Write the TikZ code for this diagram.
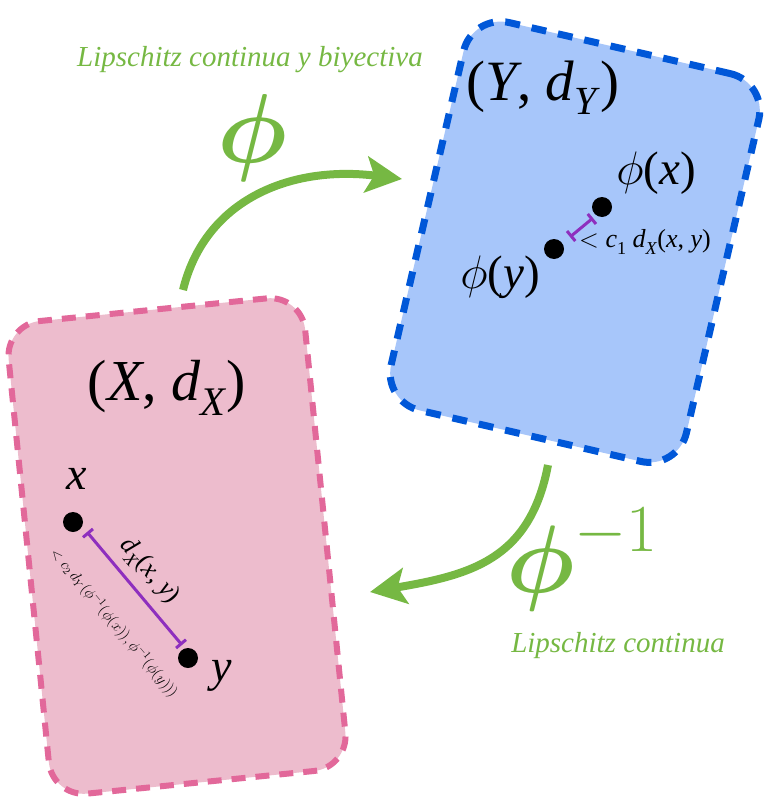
\RequirePackage{fix-cm}
\documentclass[tikz,border=0pt]{standalone}
\usepackage{amsmath}
\usepackage{fontspec}
\setmainfont{Liberation Serif}[ItalicFont={Liberation Serif Italic}]
\usetikzlibrary{arrows.meta}
\definecolor{pinkfill}{RGB}{237,188,205}
\definecolor{pinkline}{RGB}{226,104,154}
\definecolor{bluefill}{RGB}{167,198,250}
\definecolor{blueline}{RGB}{0,87,216}
\definecolor{purp}{RGB}{142,47,190}
\definecolor{grn}{RGB}{118,184,67}
\newcommand{\vi}[1]{\textit{#1}}
\newcommand{\subi}[1]{\raisebox{-0.25em}{\scalebox{0.7}{#1}}}
\tikzset{
  pinkbox/.style={draw=pinkline, fill=pinkfill, line width=6pt, dash pattern=on 14pt off 10pt,
    rounded corners=35pt, minimum width=298pt, minimum height=475pt, rotate=5.7},
  bluebox/.style={draw=blueline, fill=bluefill, line width=7pt, dash pattern=on 15pt off 12pt,
    rounded corners=38pt, minimum width=303pt, minimum height=398pt, rotate=-13},
  dot/.style={circle, fill=black, inner sep=0pt, minimum size=20pt},
  lab/.style={inner sep=0pt, text=black},
  greenarrow/.style={draw=grn, line width=8pt, -{Stealth[length=36pt,width=36pt,inset=8pt]}},
  bar/.style={draw=purp, line width=3pt, {Bar[width=13pt,line width=3pt]}-{Bar[width=13pt,line width=3pt]}},
  greentext/.style={inner sep=0pt, text=grn},
}
\begin{document}
\begin{tikzpicture}[x=1pt,y=-1pt]
\useasboundingbox (0,0) rectangle (768,805);
% boxes
\node[pinkbox] (X) at (177,546) {};
\node[bluebox] (Y) at (575,242) {};
% titles
\node[lab, font=\fontsize{58}{58}\selectfont] (tX) at (167,388) {(\vi{X}, \vi{d}\subi{\vi{X}})};
\node[lab, font=\fontsize{57}{57}\selectfont] (tY) at (543,88) {(\vi{Y}, \vi{d}\subi{\vi{Y}})};
% points in X
\node[dot] (px) at (73,522) {};
\node[dot] (py) at (188,658) {};
\node[lab, font=\fontsize{46}{46}\selectfont] (lx) at (77,479) {\vi{x}};
\node[lab, font=\fontsize{46}{46}\selectfont] (ly) at (222,676) {\vi{y}};
\coordinate (b1) at (87,532);
\coordinate (b2) at (182,645);
\draw[bar] (b1) -- (b2);
\node[lab, rotate=-49, font=\fontsize{26}{26}\selectfont] (dxy) at (149,571) {\vi{d}\subi{\vi{X}}(\vi{x}, \vi{y})};
\node[lab, rotate=-50, font=\fontsize{15}{15}\selectfont] (c2) at (114,623) {$<c_2\,d_Y(\phi^{-1}(\phi(x)),\phi^{-1}(\phi(y)))$};
% points in Y
\node[dot] (qx) at (602,207) {};
\node[dot] (qy) at (554,249) {};
\node[lab, font=\fontsize{47}{47}\selectfont] (lqx) at (656,173) {$\phi$(\vi{x})};
\node[lab, font=\fontsize{47}{47}\selectfont] (lqy) at (500,277) {$\phi$(\vi{y})};
\coordinate (d1) at (593,218);
\coordinate (d2) at (570,237);
\draw[bar] (d1) -- (d2);
\node[lab, font=\fontsize{26}{26}\selectfont] (c1) at (645,242) {$<$ \vi{c}\subi{1} \vi{d}\subi{\vi{X}}(\vi{x}, \vi{y})};
% arrows
\coordinate (s1) at (183,290);
\coordinate (t1) at (402,179);
\draw[greenarrow] (s1) .. controls (205,200) and (290,165) .. (t1);
\coordinate (s2) at (548,465);
\coordinate (t2) at (370,592);
\draw[greenarrow] (s2) .. controls (530,560) and (470,575) .. (t2);
% green labels
\node[greentext, font=\fontsize{98}{98}\selectfont] (phi) at (252,138) {$\boldsymbol{\phi}$};
\node[greentext, font=\fontsize{96}{96}\selectfont] (phiinv) at (582,560) {$\boldsymbol{\phi}^{-1}$};
\node[greentext, font=\itshape\fontsize{29}{29}\selectfont] (lip1) at (250,60) {Lipschitz continua y biyectiva};
\node[greentext, font=\itshape\fontsize{29}{29}\selectfont] (lip2) at (618,646) {Lipschitz continua};
\end{tikzpicture}
\end{document}
